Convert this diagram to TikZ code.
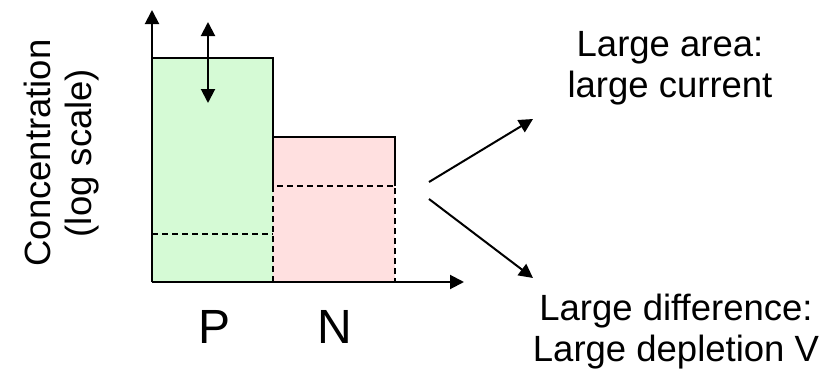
\documentclass[tikz,border=0pt]{standalone}
\usepackage{fontspec}
\setmainfont{Liberation Sans}
\usetikzlibrary{arrows.meta}
\definecolor{pgreen}{RGB}{213,250,213}
\definecolor{npink}{RGB}{255,224,224}
\begin{document}
\begin{tikzpicture}[x=1pt,y=-1pt,
  ln/.style={line width=2.4pt},
  dsh/.style={line width=2pt,dash pattern=on 6pt off 4pt},
  arr/.style={line width=2pt,-{Triangle[length=14pt,width=14pt]}},
  lbl/.style={font=\fontsize{36.5}{41}\selectfont,align=center,inner sep=0pt},
  big/.style={font=\fontsize{48}{52}\selectfont,inner sep=0pt}]
\useasboundingbox (0,0) rectangle (838,372);
% regions
\fill[pgreen] (152,58) rectangle (273,282);
\fill[npink] (273,137) rectangle (395,282);
% named points
\coordinate (o) at (152,282);
\coordinate (ytip) at (152,10);
\coordinate (xtip) at (464,282);
\coordinate (dtop) at (208,22);
\coordinate (dbot) at (208,103);
\coordinate (s1) at (429,182);
\coordinate (s2) at (429,199);
% outlines
\draw[ln] (152,282) -- (152,58) -- (273,58) -- (273,186);
\draw[ln] (273,137) -- (395,137) -- (395,186);
\draw[dsh] (152,234) -- (273,234);
\draw[dsh] (273,282) -- (273,186) -- (395,186) -- (395,282);
% axes
\draw[arr] (o) -- (ytip);
\draw[arr] (o) -- (xtip);
\draw[line width=2pt,{Triangle[length=14pt,width=14pt]}-{Triangle[length=14pt,width=14pt]}] (dtop) -- (dbot);
% labels
\node[lbl,rotate=90] (ylab) at (62,153) {Concentration\\(log scale)};
\node[big] (p) at (215,327) {P};
\node[big] (n) at (335,327) {N};
\node[lbl] (area) at (670,68) {Large area:\\large current};
\node[lbl] (diff) at (676,332) {Large difference:\\Large depletion V};
\coordinate (t1) at (533,119);
\coordinate (t2) at (533,278);
\draw[arr] (s1) -- (t1);
\draw[arr] (s2) -- (t2);
\end{tikzpicture}
\end{document}
